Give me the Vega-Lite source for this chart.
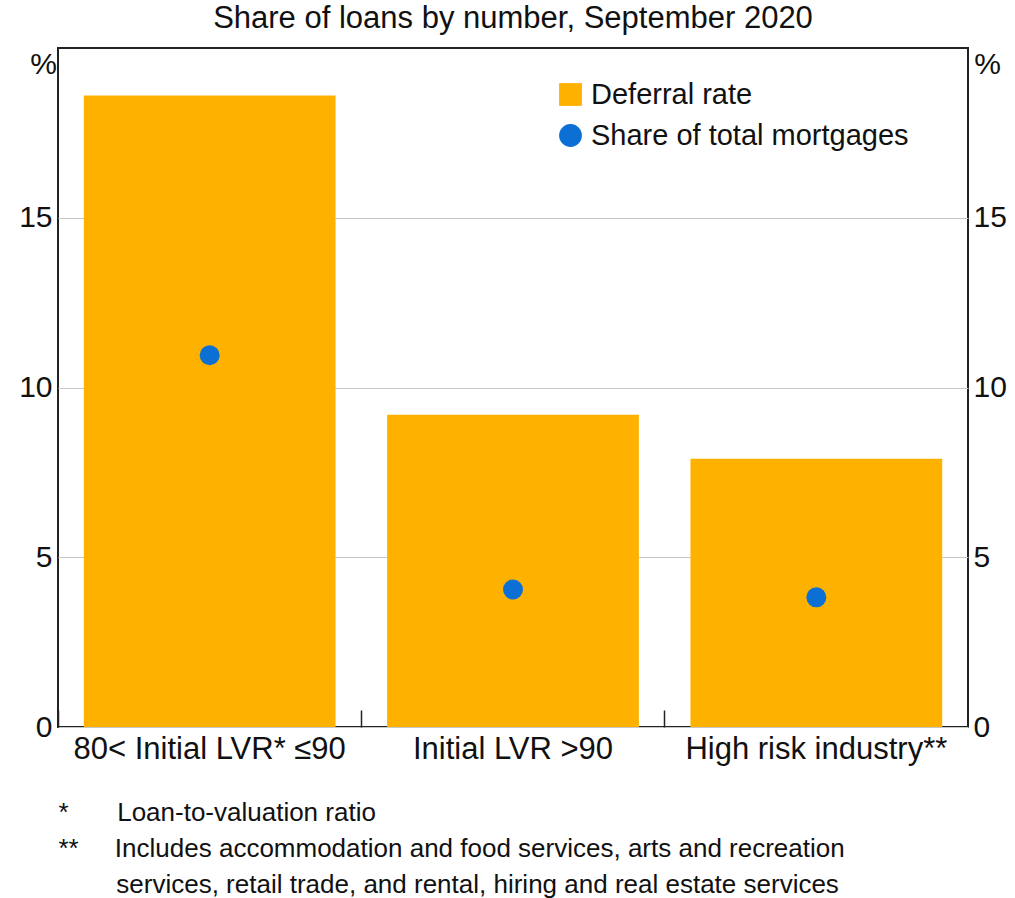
{
  "$schema": "https://vega.github.io/schema/vega-lite/v6.json",
  "autosize": "none",
  "width": 910,
  "height": 679,
  "padding": {"left": 58, "top": 48, "right": 47, "bottom": 171},
  "background": "white",
  "config": {
    "font": "Liberation Sans",
    "view": {"stroke": "#222222", "strokeWidth": 2},
    "axis": {"labelFont": "Liberation Sans", "titleFont": "Liberation Sans", "labelColor": "#111", "titleColor": "#111"}
  },
  "title": {
    "text": "Share of loans by number, September 2020",
    "fontSize": 31,
    "fontWeight": "normal",
    "color": "#111",
    "offset": 13,
    "anchor": "middle"
  },
  "data": {
    "values": [
      {"category": "80< Initial LVR* ≤90", "deferral": 18.6, "share": 10.95},
      {"category": "Initial LVR >90", "deferral": 9.2, "share": 4.05},
      {"category": "High risk industry**", "deferral": 7.9, "share": 3.82}
    ]
  },
  "layer": [
    {
      "mark": {"type": "bar", "color": "#ffb100"},
      "encoding": {
        "x": {
          "field": "category",
          "type": "nominal",
          "sort": null,
          "scale": {"paddingInner": 0.17, "paddingOuter": 0.085},
          "axis": {
            "labelAngle": 0,
            "labelFontSize": 31,
            "labelLimit": 0,
            "labelPadding": 24,
            "bandPosition": -0.1024,
            "ticks": true,
            "tickSize": -17,
            "tickColor": "#222",
            "tickWidth": 1.5,
            "domain": false,
            "zindex": 1,
            "title": [
              "*\u00a0\u00a0\u00a0\u00a0\u00a0\u00a0\u2009Loan-to-valuation ratio",
              "**\u00a0\u00a0\u00a0\u00a0\u00a0Includes accommodation and food services, arts and recreation",
              "\u200b\u00a0\u00a0\u00a0\u00a0\u00a0\u00a0\u00a0\u00a0services, retail trade, and rental, hiring and real estate services"
            ],
            "titleFontSize": 26,
            "titleFontWeight": "normal",
            "titleAnchor": "start",
            "titleAlign": "left",
            "titleX": 0,
            "titleLineHeight": 36,
            "titlePadding": 35
          }
        },
        "y": {
          "field": "deferral",
          "type": "quantitative",
          "scale": {"domain": [0, 20], "nice": false},
          "axis": {
            "orient": "left",
            "values": [0, 5, 10, 15],
            "grid": true,
            "gridColor": "#c8c8c8",
            "gridWidth": 1.2,
            "ticks": false,
            "domain": false,
            "labelFontSize": 30,
            "labelPadding": 6,
            "title": "%",
            "titleAngle": 0,
            "titleFontSize": 30,
            "titleFontWeight": "normal",
            "titleX": -15,
            "titleY": 16,
            "titleAlign": "center",
            "titleBaseline": "middle"
          }
        },
        "color": {
          "datum": "Deferral rate",
          "type": "nominal",
          "scale": {"domain": ["Deferral rate", "Share of total mortgages"], "range": ["#ffb100", "#0b6fd4"]},
          "legend": {
            "title": null,
            "orient": "none",
            "legendX": 498,
            "legendY": 32,
            "labelFontSize": 29,
            "labelLimit": 0,
            "labelColor": "#111",
            "symbolSize": 520,
            "symbolStrokeWidth": 0,
            "rowPadding": 11,
            "labelOffset": 6,
            "padding": 0
          }
        }
      }
    },
    {
      "mark": {"type": "point", "filled": true, "opacity": 1, "size": 400},
      "encoding": {
        "x": {"field": "category", "type": "nominal", "sort": null, "axis": null},
        "y": {
          "field": "share",
          "type": "quantitative",
          "axis": {
            "orient": "right",
            "values": [0, 5, 10, 15],
            "grid": false,
            "ticks": false,
            "domain": false,
            "labelFontSize": 30,
            "labelPadding": 5,
            "title": "%",
            "titleAngle": 0,
            "titleFontSize": 30,
            "titleFontWeight": "normal",
            "titleX": 19,
            "titleY": 16,
            "titleAlign": "center",
            "titleBaseline": "middle"
          }
        },
        "color": {"datum": "Share of total mortgages", "type": "nominal"},
        "shape": {
          "datum": "Share of total mortgages",
          "type": "nominal",
          "scale": {"domain": ["Deferral rate", "Share of total mortgages"], "range": ["square", "circle"]}
        }
      }
    }
  ],
  "resolve": {"axis": {"y": "independent", "x": "independent"}}
}
